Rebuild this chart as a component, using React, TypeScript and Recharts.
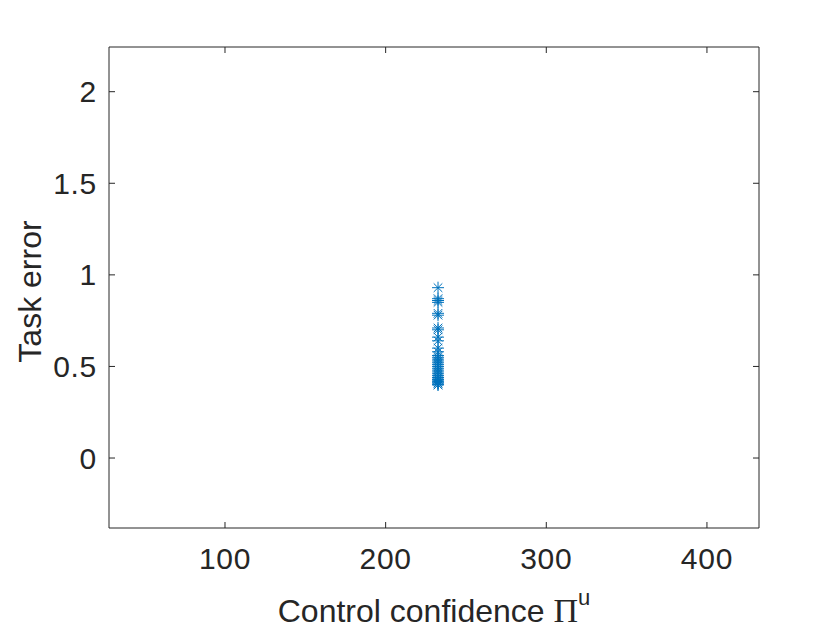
import React from 'react';
import { ScatterChart, Scatter, XAxis, YAxis } from 'recharts';

const xValues: number[] = [
  232.6, 232.6, 232.6, 232.6, 232.6, 232.6, 232.6, 232.6, 232.6, 232.6,
  232.6, 232.6, 232.6, 232.6, 232.6, 232.6, 232.6, 232.6, 232.6, 232.6,
  232.6, 232.6, 232.6, 232.6, 232.6, 232.6, 232.6, 232.6, 232.6, 232.6,
  232.6, 232.6, 232.6, 232.6,
];
const yValues: number[] = [
  0.93, 0.87, 0.86, 0.85, 0.79, 0.78, 0.71, 0.7, 0.66, 0.64,
  0.6, 0.58, 0.56, 0.55, 0.54, 0.53, 0.52, 0.51, 0.5, 0.49,
  0.48, 0.47, 0.46, 0.45, 0.44, 0.44, 0.43, 0.43, 0.42, 0.42,
  0.41, 0.41, 0.4, 0.4,
];
const xTicks: number[] = [100, 200, 300, 400];
const yTicks: number[] = [0, 0.5, 1, 1.5, 2];
const xDomain: [number, number] = [27.8, 432.4];
const yDomain: [number, number] = [-0.382, 2.244];

const data = xValues.map((x, i) => ({ x, y: yValues[i] }));

const AXIS = '#262626';
const BLUE = '#0072BD';
const SANS = '"Liberation Sans", Arial, Helvetica, sans-serif';
const SERIF = '"Liberation Serif", "Times New Roman", serif';
const TICK_FS = 30;
const TICK_LS = 0.7;
const LABEL_FS = 32;
const TL = 6;

const BottomTick = (p: any) => (
  <g>
    <line x1={p.x} y1={p.y} x2={p.x} y2={p.y - TL} stroke={AXIS} strokeWidth={1} />
    <text x={p.x} y={p.y + 41} textAnchor="middle" fontSize={TICK_FS} letterSpacing={TICK_LS} fontFamily={SANS} fill={AXIS}>
      {String(p.payload.value)}
    </text>
  </g>
);
const LeftTick = (p: any) => (
  <g>
    <line x1={p.x} y1={p.y} x2={p.x + TL} y2={p.y} stroke={AXIS} strokeWidth={1} />
    <text x={p.x - 12} y={p.y + 10.5} textAnchor="end" fontSize={TICK_FS} letterSpacing={TICK_LS} fontFamily={SANS} fill={AXIS}>
      {String(p.payload.value)}
    </text>
  </g>
);
const TopTick = (p: any) => (
  <line x1={p.x} y1={p.y} x2={p.x} y2={p.y + TL} stroke={AXIS} strokeWidth={1} />
);
const RightTick = (p: any) => (
  <line x1={p.x} y1={p.y} x2={p.x - TL} y2={p.y} stroke={AXIS} strokeWidth={1} />
);

const Asterisk = (p: any) => {
  const { cx, cy } = p;
  if (cx == null || cy == null) return null;
  const r = 6;
  const d = 4.3;
  return (
    <g stroke={BLUE} strokeWidth={1} fill="none">
      <line x1={cx - r} y1={cy} x2={cx + r} y2={cy} />
      <line x1={cx} y1={cy - r} x2={cx} y2={cy + r} />
      <line x1={cx - d} y1={cy - d} x2={cx + d} y2={cy + d} />
      <line x1={cx - d} y1={cy + d} x2={cx + d} y2={cy - d} />
    </g>
  );
};

const XLabel = (p: any) => {
  const vb = p.viewBox || {};
  const cx = vb.x + vb.width / 2;
  const y = vb.y + 94;
  return (
    <text x={cx} y={y} textAnchor="middle" fill={AXIS} fontFamily={SANS} fontSize={LABEL_FS}>
      <tspan>Control confidence </tspan>
      <tspan fontFamily={SERIF} fontSize={34}>Π</tspan>
      <tspan fontSize={22} dy={-17}>u</tspan>
    </text>
  );
};

const YLabel = (p: any) => {
  const vb = p.viewBox || {};
  const cy = vb.y + vb.height / 2 + 4;
  const x = 41;
  return (
    <text x={x} y={cy} transform={`rotate(-90, ${x}, ${cy})`} textAnchor="middle" fill={AXIS} fontFamily={SANS} fontSize={LABEL_FS}>
      Task error
    </text>
  );
};

export default function App() {
  return (
    <div style={{ position: 'absolute', left: 0, top: 0, width: 840, height: 630, background: '#fff' }}>
      <ScatterChart width={840} height={630} margin={{ top: 46, right: 80, bottom: 0, left: 0 }}>
        <XAxis
          xAxisId="b"
          type="number"
          dataKey="x"
          orientation="bottom"
          domain={xDomain}
          allowDataOverflow
          ticks={xTicks}
          interval={0}
          height={102}
          tickSize={0}
          tickMargin={0}
          tickLine={false}
          axisLine={{ stroke: AXIS, strokeWidth: 1 }}
          tick={(p: any) => <BottomTick {...p} />}
          label={{ content: (p: any) => <XLabel {...p} /> }}
        />
        <XAxis
          xAxisId="t"
          type="number"
          dataKey="x"
          orientation="top"
          domain={xDomain}
          allowDataOverflow
          ticks={xTicks}
          interval={0}
          height={1}
          tickSize={0}
          tickMargin={0}
          tickLine={false}
          axisLine={{ stroke: AXIS, strokeWidth: 1 }}
          tick={(p: any) => <TopTick {...p} />}
        />
        <YAxis
          yAxisId="l"
          type="number"
          dataKey="y"
          orientation="left"
          domain={yDomain}
          allowDataOverflow
          ticks={yTicks}
          interval={0}
          width={109}
          tickSize={0}
          tickMargin={0}
          tickLine={false}
          axisLine={{ stroke: AXIS, strokeWidth: 1 }}
          tick={(p: any) => <LeftTick {...p} />}
          label={{ content: (p: any) => <YLabel {...p} /> }}
        />
        <YAxis
          yAxisId="r"
          type="number"
          dataKey="y"
          orientation="right"
          domain={yDomain}
          allowDataOverflow
          ticks={yTicks}
          interval={0}
          width={1}
          tickSize={0}
          tickMargin={0}
          tickLine={false}
          axisLine={{ stroke: AXIS, strokeWidth: 1 }}
          tick={(p: any) => <RightTick {...p} />}
        />
        <Scatter
          data={data}
          xAxisId="b"
          yAxisId="l"
          shape={(p: any) => <Asterisk {...p} />}
          isAnimationActive={false}
        />
      </ScatterChart>
    </div>
  );
}
